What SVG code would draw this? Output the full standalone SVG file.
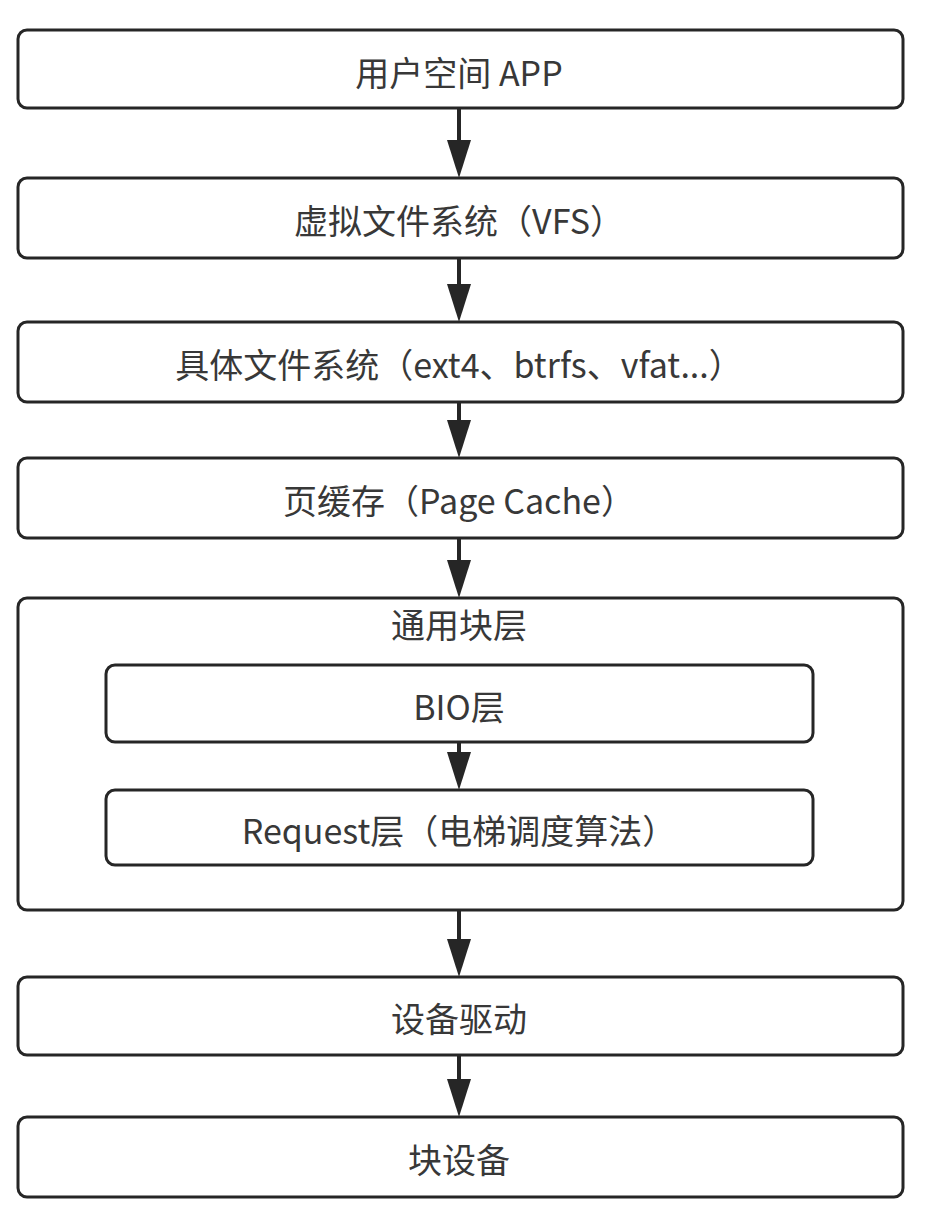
<svg xmlns="http://www.w3.org/2000/svg" width="930" height="1220" viewBox="0 0 930 1220">
<defs>
<marker id="ah" viewBox="0 0 38 24" refX="8" refY="12" markerWidth="38" markerHeight="24" markerUnits="userSpaceOnUse" orient="auto">
<path d="M0,0 L38,12 L0,24 Z" fill="#262626"/>
</marker>
<style>
.box{fill:#fff;stroke:#262626;stroke-width:3}
.t{font-family:"Noto Sans CJK SC","Noto Sans",sans-serif;font-size:34px;fill:#383838;text-anchor:middle;dominant-baseline:central}
.c{stroke:#262626;stroke-width:4;fill:none}
</style>
</defs>
<rect width="930" height="1220" fill="#fff"/>
<g id="n1"><rect class="box" x="18" y="30" width="885" height="78" rx="9"/><text class="t" x="459" y="71">用户空间 APP</text></g>
<g id="n2"><rect class="box" x="18" y="178" width="885" height="80" rx="9"/><text class="t" x="459" y="219">虚拟文件系统（VFS）</text></g>
<g id="n3"><rect class="box" x="18" y="322" width="885" height="80" rx="9"/><text class="t" x="459" y="363">具体文件系统（ext4、btrfs、vfat...）</text></g>
<g id="n4"><rect class="box" x="18" y="458" width="885" height="80" rx="9"/><text class="t" x="459" y="499">页缓存（Page Cache）</text></g>
<g id="n5"><rect class="box" x="18" y="598" width="885" height="312" rx="9"/><text class="t" x="459" y="623">通用块层</text></g>
<g id="n6"><rect class="box" x="106" y="665" width="707" height="77" rx="9"/><text class="t" x="459" y="705">BIO层</text></g>
<g id="n7"><rect class="box" x="106" y="790" width="707" height="75" rx="9"/><text class="t" x="459" y="829">Request层（电梯调度算法）</text></g>
<g id="n8"><rect class="box" x="18" y="977" width="885" height="78" rx="9"/><text class="t" x="459" y="1017">设备驱动</text></g>
<g id="n9"><rect class="box" x="18" y="1117" width="885" height="80" rx="9"/><text class="t" x="459" y="1158">块设备</text></g>
<g id="connectors">
<line class="c" x1="459" y1="109" x2="459" y2="148" marker-end="url(#ah)"/>
<line class="c" x1="459" y1="259" x2="459" y2="292" marker-end="url(#ah)"/>
<line class="c" x1="459" y1="403" x2="459" y2="428" marker-end="url(#ah)"/>
<line class="c" x1="459" y1="539" x2="459" y2="568" marker-end="url(#ah)"/>
<line class="c" x1="459" y1="743" x2="459" y2="760" marker-end="url(#ah)"/>
<line class="c" x1="459" y1="911" x2="459" y2="947" marker-end="url(#ah)"/>
<line class="c" x1="459" y1="1056" x2="459" y2="1087" marker-end="url(#ah)"/>
</g>
</svg>
